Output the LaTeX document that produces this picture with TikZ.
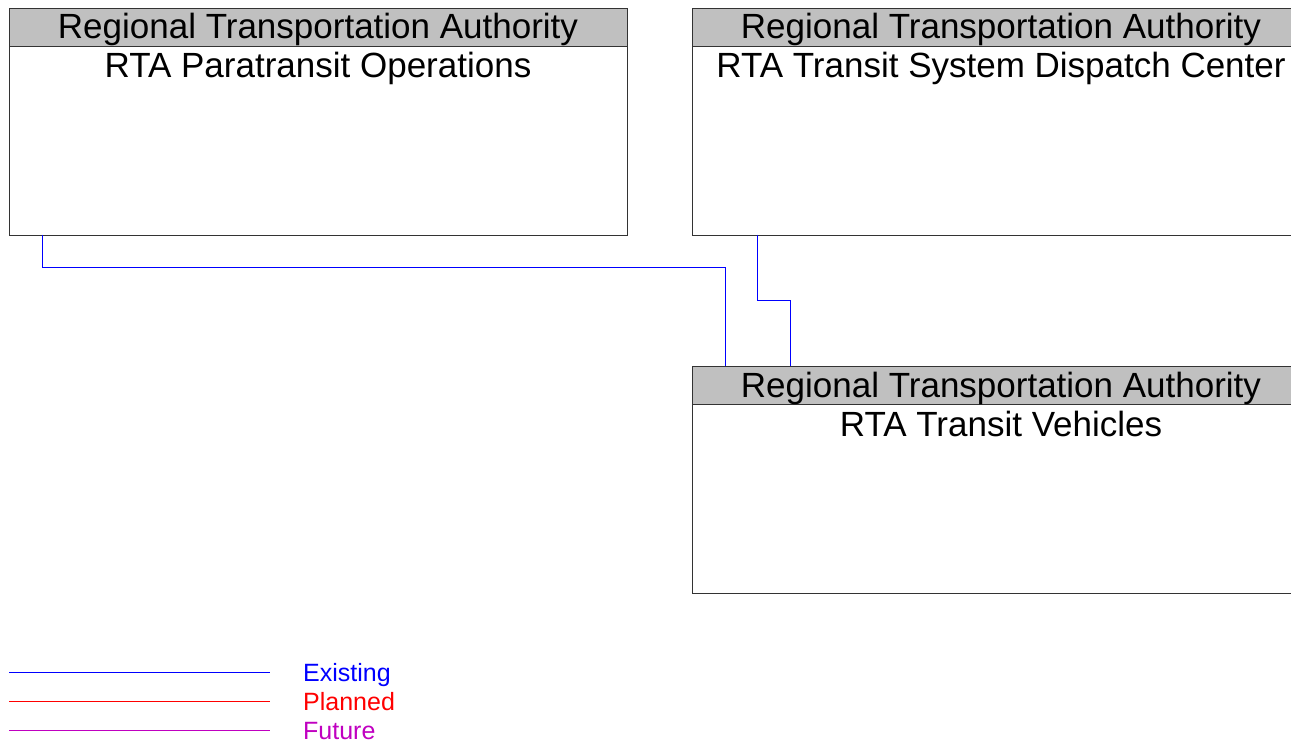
\documentclass[tikz,border=0pt]{standalone}
\usepackage{fontspec}
\setmainfont{Liberation Sans}
\definecolor{hdrgray}{RGB}{192,192,192}
\definecolor{existc}{RGB}{0,0,255}
\definecolor{plannedc}{RGB}{255,0,0}
\definecolor{futurec}{RGB}{192,0,192}
\begin{document}
\begin{tikzpicture}[x=1pt,y=-1pt,
  box/.style={draw=black!80,line width=0.9pt,fill=white,minimum width=618pt,minimum height=227pt,anchor=north west,inner sep=0pt,outer sep=0pt},
  hdr/.style={draw=black!80,line width=0.9pt,fill=hdrgray,minimum width=618pt,minimum height=38pt,anchor=north west,inner sep=0pt,outer sep=0pt},
  big/.style={font=\fontsize{35}{42}\selectfont,anchor=base,inner sep=0pt},
  leg/.style={font=\fontsize{25}{30}\selectfont,anchor=base west,inner sep=0pt},
  exist/.style={draw=existc,line width=0.9pt},
  planned/.style={draw=plannedc,line width=0.9pt},
  future/.style={draw=futurec,line width=0.9pt}]
\useasboundingbox (0,0) rectangle (1291,743);
\clip (0,0) rectangle (1291,743);
% boxes
\node[box] (A) at (9,8) {};
\node[hdr] (Ah) at (9,8) {};
\node[big] (At) at (318,39) {Regional Transportation Authority};
\node[big] (Ab) at (318,78) {RTA Paratransit Operations};
\node[box] (B) at (692,8) {};
\node[hdr] (Bh) at (692,8) {};
\node[big] (Bt) at (1001,39) {Regional Transportation Authority};
\node[big] (Bb) at (1001,78) {RTA Transit System Dispatch Center};
\node[box] (C) at (692,366) {};
\node[hdr] (Ch) at (692,366) {};
\node[big] (Ct) at (1001,397) {Regional Transportation Authority};
\node[big] (Cb) at (1001,436) {RTA Transit Vehicles};
% connectors
\draw[exist] ([xshift=33pt]A.south west) -- ++(0,32) -| ([xshift=33pt]C.north west);
\draw[exist] ([xshift=65pt]B.south west) -- ++(0,65) -| ([xshift=98pt]C.north west);
% legend
\coordinate (l1a) at (9,672); \coordinate (l1b) at (270,672);
\coordinate (l2a) at (9,701); \coordinate (l2b) at (270,701);
\coordinate (l3a) at (9,730); \coordinate (l3b) at (270,730);
\draw[exist] (l1a) -- (l1b);
\draw[planned] (l2a) -- (l2b);
\draw[future] (l3a) -- (l3b);
\node[leg,text=existc] (le) at (303,681) {Existing};
\node[leg,text=plannedc] (lp) at (303,710) {Planned};
\node[leg,text=futurec] (lf) at (303,739) {Future};
\end{tikzpicture}
\end{document}
